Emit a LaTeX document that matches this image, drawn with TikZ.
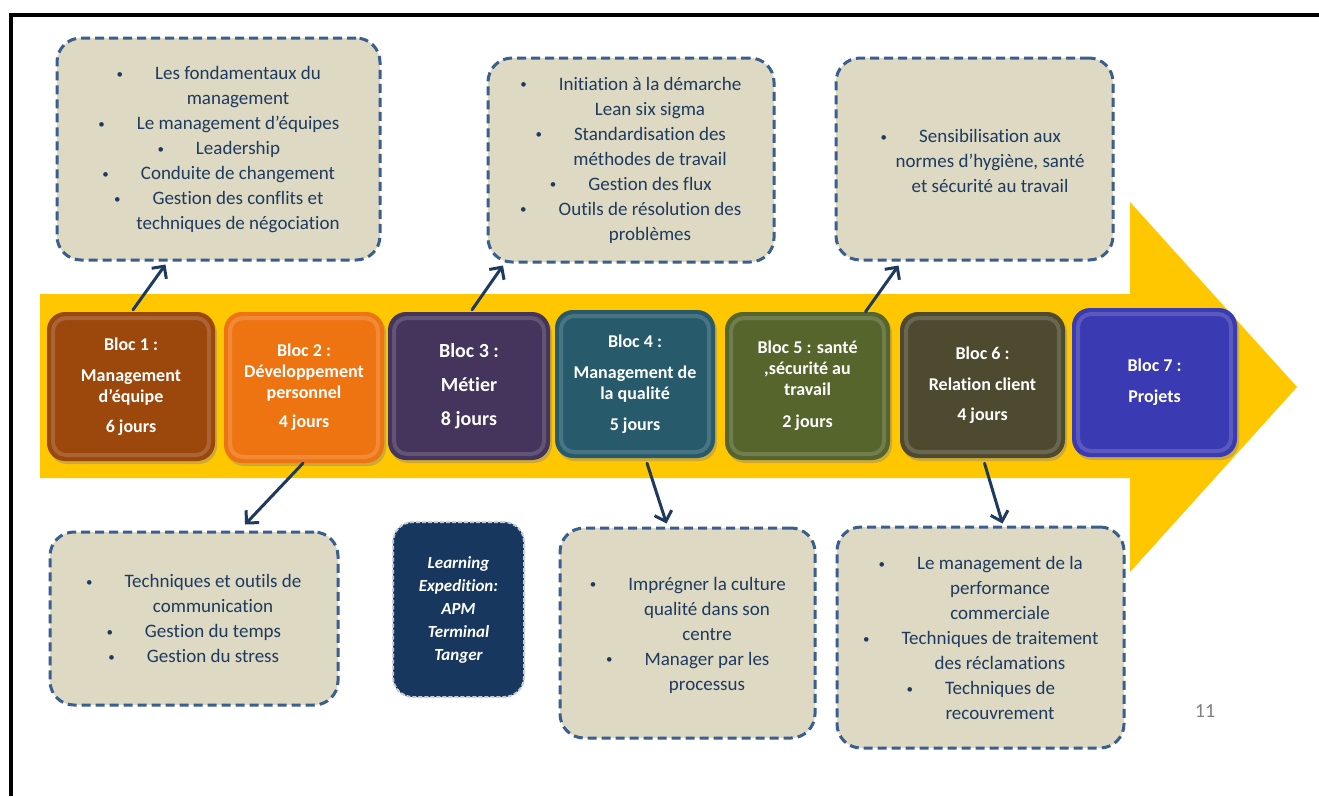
\documentclass[tikz,border=0pt]{standalone}
\usepackage{fontspec}
\setmainfont{Carlito}[Ligatures=NoCommon]
\usetikzlibrary{arrows.meta,shadows}
\definecolor{gold}{HTML}{FFC700}
\definecolor{tanfill}{HTML}{DDD9C3}
\definecolor{boxblue}{HTML}{3A5F8E}
\definecolor{navytext}{HTML}{1F3A5F}
\definecolor{arrowblue}{HTML}{1F3A5F}
\definecolor{learnfill}{HTML}{17375E}
\definecolor{cA}{HTML}{9C470C}
\definecolor{cB}{HTML}{EE7412}
\definecolor{cC}{HTML}{45345B}
\definecolor{cD}{HTML}{275B6C}
\definecolor{cE}{HTML}{55652C}
\definecolor{cF}{HTML}{4E4A2F}
\definecolor{cG}{HTML}{3A3AB2}
\newcommand\itembul{\llap{\raisebox{1.5pt}{\fontsize{13}{13}\selectfont•}\hspace{32pt}}}
\begin{document}
\begin{tikzpicture}[x=1pt,y=-1pt,
  bloc/.style={rounded corners=18pt, fill=#1, text=white, align=center, inner sep=0pt,
    font=\fontsize{18}{21}\selectfont\bfseries,
    drop shadow={shadow xshift=2pt, shadow yshift=-3pt, opacity=0.4},
    path picture={\draw[white, opacity=0.16, line width=4pt, rounded corners=13pt]
      ([shift={(6pt,-6pt)}]path picture bounding box.north west) rectangle
      ([shift={(-6pt,6pt)}]path picture bounding box.south east);}},
  tanbox/.style={draw=boxblue, line width=3pt, dash pattern=on 9pt off 5pt, fill=tanfill,
    rounded corners=24pt, inner sep=0pt},
  listtext/.style={text=navytext, font=\fontsize{19}{25}\selectfont, align=center},
  conn/.style={draw=arrowblue, line width=3pt, line cap=round, -{Straight Barb[length=9pt,width=18pt]}}
]
\useasboundingbox (0,0) rectangle (1319,796);
\fill[white] (0,0) rectangle (1319,796);
% frame
\draw[line width=4pt] (10.5,796) -- (10.5,15) -- (1319,15);
% big arrow
\fill[gold] (40,294) -- (1130,294) -- (1130,202) -- (1297,387) -- (1130,572) -- (1130,478) -- (40,478) -- cycle;

% blocs
\node[bloc=cA, minimum width=168pt, minimum height=149pt] (b1) at (131,386.5)
  {Bloc 1 :\\[10pt]Management\\d’équipe\\[9pt]6 jours};
\node[bloc=cB, minimum width=160pt, minimum height=151pt] (b2) at (304,387.5)
  {Bloc 2 :\\Développement\\personnel\\[8pt]4 jours};
\node[bloc=cC, minimum width=162pt, minimum height=148pt, font=\fontsize{20}{24}\selectfont\bfseries] (b3) at (469,386)
  {Bloc 3 :\\[10pt]Métier\\[10pt]8 jours};
\node[bloc=cD, minimum width=160pt, minimum height=148pt] (b4) at (635,384)
  {Bloc 4 :\\[10pt]Management de\\la qualité\\[10pt]5 jours};
\node[bloc=cE, minimum width=165pt, minimum height=148pt] (b5) at (807.5,386)
  {Bloc 5 : santé\\,sécurité au\\travail\\[11pt]2 jours};
\node[bloc=cF, minimum width=165pt, minimum height=146pt] (b6) at (982.5,385)
  {Bloc 6 :\\[10pt]Relation client\\[9pt]4 jours};
\node[bloc=cG, minimum width=165pt, minimum height=149pt] (b7) at (1154.5,382.5)
  {Bloc 7 :\\[10pt]Projets};

% tan boxes
\node[tanbox, minimum width=323pt, minimum height=222pt] (bA) at (218.5,149) {};
\node[listtext] (tA) at (238,150) {\itembul Les fondamentaux du\\management\\\itembul Le management d’équipes\\\itembul Leadership\\\itembul Conduite de changement\\\itembul Gestion des conflits et\\techniques de négociation};

\node[tanbox, minimum width=286pt, minimum height=204pt] (bB) at (631,160) {};
\node[listtext] (tB) at (650,160) {\itembul Initiation à la démarche\\Lean six sigma\\\itembul Standardisation des\\méthodes de travail\\\itembul Gestion des flux\\\itembul Outils de résolution des\\problèmes};

\node[tanbox, minimum width=277pt, minimum height=202pt] (bC) at (974.5,159) {};
\node[listtext] (tC) at (990,161) {\itembul Sensibilisation aux\\normes d’hygiène, santé\\et sécurité au travail};

\node[tanbox, minimum width=288pt, minimum height=173pt] (bD) at (194,618.5) {};
\node[listtext] (tD) at (213,618.5) {\itembul Techniques et outils de\\communication\\\itembul Gestion du temps\\\itembul Gestion du stress};

\node[draw=white!75!learnfill, line width=2pt, dash pattern=on 4pt off 2pt, fill=learnfill, rounded corners=20pt,
  minimum width=131pt, minimum height=175pt, text=white, align=center,
  font=\fontsize{17}{23}\selectfont\bfseries\itshape] (learn) at (458.5,609.5)
  {Learning\\Expedition:\\APM\\Terminal\\Tanger};

\node[tanbox, minimum width=255pt, minimum height=210pt] (bE) at (687.5,633) {};
\node[listtext] (tE) at (707,635) {\itembul Imprégner la culture\\qualité dans son\\centre\\\itembul Manager par les\\processus};

\node[tanbox, minimum width=287pt, minimum height=221pt] (bF) at (980.5,637.5) {};
\node[listtext] (tF) at (1000,638) {\itembul Le management de la\\performance\\commerciale\\\itembul Techniques de traitement\\des réclamations\\\itembul Techniques de\\recouvrement};

% connectors
\draw[conn] ([xshift=2pt,yshift=2pt]b1.north) -- ([xshift=-53pt,yshift=-3pt]bA.south);
\draw[conn] ([xshift=-1pt]b2.south) -- ([xshift=51pt,yshift=6pt]bD.north);
\draw[conn] ([xshift=3pt,yshift=2pt]b3.north) -- ([xshift=-128pt,yshift=-2pt]bB.south);
\draw[conn] ([xshift=12pt,yshift=-5pt]b4.south) -- ([xshift=-21pt,yshift=3pt]bE.north);
\draw[conn] ([xshift=58pt]b5.north) -- ([xshift=-76pt,yshift=-4pt]bC.south);
\draw[conn] ([xshift=2pt,yshift=-5pt]b6.south) -- ([xshift=22pt,yshift=2pt]bF.north);

% page number
\node[text=gray, font=\fontsize{20}{22}\selectfont] (pg) at (1205,711) {11};
\end{tikzpicture}
\end{document}
